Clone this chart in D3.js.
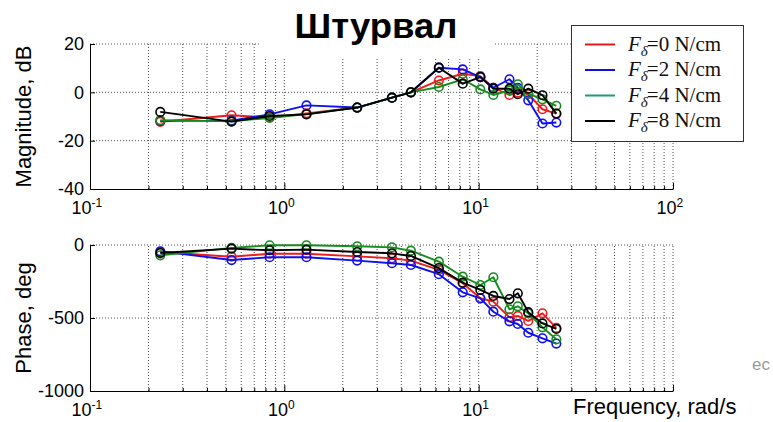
<!DOCTYPE html>
<html>
<head>
<meta charset="utf-8">
<script src="https://cdn.jsdelivr.net/npm/d3@7"></script>
<style>
  body { margin: 0; background: #fff; }
  svg { display: block; }
</style>
</head>
<body>
<svg id="chart" width="773" height="422"></svg>
<script>
// frequency points, rad/s
const freqs = [0.23, 0.535, 0.84, 1.3, 2.37, 3.58, 4.48, 6.24, 8.28, 10.2, 11.9, 14.4, 15.9, 18.0, 21.3, 25.1];

// magnitude, dB
const magF0 = [-12.2, -9.5, -10.4, -8.7, -6.3, -2.2, 0, 4.9, 7.7, 6.7, 1.9, -1.1, -0.1, -0.8, -7, -8.8];
const magF2 = [-11.8, -11.7, -9.1, -5.4, -6.3, -2.2, 0, 10.2, 9.5, 6.3, 1.9, 5.4, 1.9, -3.3, -12.9, -12.5];
const magF4 = [-11.5, -12, -10.6, -9, -6.3, -2.2, 0, 2.2, 5.4, 1.2, -1.1, 0.8, 3.3, -0.5, -2.9, -5.6];
const magF8 = [-8.1, -12.1, -9.8, -9.1, -6.3, -2.2, 0, 10.2, 3.6, 6.3, 1.5, 1.5, -0.8, 1.5, -1.2, -8.8];

// phase, deg
const phaseF0 = [-48, -80, -60, -60, -78, -91, -107, -171, -262, -365, -388, -495, -486, -520, -468, -568];
const phaseF2 = [-43, -103, -84, -84, -107, -125, -137, -200, -324, -365, -457, -523, -541, -601, -639, -675];
const phaseF4 = [-71, -20, -2, -2, -9, -16, -39, -114, -217, -274, -221, -440, -420, -468, -564, -646];
const phaseF8 = [-55, -25, -36, -32, -48, -57, -75, -158, -258, -308, -349, -370, -331, -460, -537, -575];

const loads = ['0', '2', '4', '8'];
const xTickExps = [-1, 0, 1, 2];
const magTicks = [20, 0, -20, -40];
const phaseTicks = [0, -500, -1000];

const lineColors = ['#ee1c1c', '#1010ee', '#168c1e', '#000000'];
const legendColors = ['#e0191c', '#1010d8', '#1f9980', '#000000'];

const series = loads.map((name, i) => ({
  name,
  mag: [magF0, magF2, magF4, magF8][i],
  phase: [phaseF0, phaseF2, phaseF4, phaseF8][i],
  color: lineColors[i]
}));

const svg = d3.select('#chart');
const font = '"Liberation Sans", Arial, sans-serif';

const x = d3.scaleLog().domain([0.1, 100]).range([90, 673]);
const yMag = d3.scaleLinear().domain([-40, 20]).range([189, 44]);
const yPh = d3.scaleLinear().domain([-1000, 0]).range([391, 245]);

const minorVals = [];
for (let e = -1; e < 2; e++) {
  for (let k = 2; k <= 9; k++) minorVals.push(k * Math.pow(10, e));
}
const majorVals = xTickExps.map(e => Math.pow(10, e));

function panel(y, ticks, key, label, labelledMax) {
  const [y0, y1] = y.range();   // bottom, top
  const g = svg.append('g');

  // dotted grid
  const grid = g.append('g')
      .attr('stroke', '#555')
      .attr('stroke-width', 1)
      .attr('stroke-dasharray', '1,2');
  grid.selectAll('line.v')
    .data(minorVals.concat(majorVals.slice(1)))
    .join('line')
      .attr('x1', d => x(d)).attr('x2', d => x(d))
      .attr('y1', y0).attr('y2', y1);
  grid.selectAll('line.h')
    .data(ticks.filter(t => t !== y.domain()[0]))
    .join('line')
      .attr('x1', x.range()[0]).attr('x2', x.range()[1])
      .attr('y1', d => y(d)).attr('y2', d => y(d));

  // axes
  const xAxis = g.append('g')
      .attr('transform', `translate(0,${y0})`)
      .call(d3.axisBottom(x).tickValues(majorVals).tickSizeInner(-6).tickSizeOuter(0).tickPadding(12));
  xAxis.selectAll('.tick text').each(function(d) {
    const t = d3.select(this).text('');
    if (d > labelledMax) { t.remove(); return; }
    t.attr('font-size', 18).attr('font-family', font).attr('fill', '#000').attr('dx', '-0.2em');
    t.append('tspan').text('10');
    t.append('tspan').attr('font-size', 12).attr('dy', '-0.6em').text(Math.round(Math.log10(d)));
  });
  const minor = g.append('g')
      .attr('transform', `translate(0,${y0})`)
      .call(d3.axisBottom(x).tickValues(minorVals).tickSizeInner(-3).tickSizeOuter(0).tickFormat(''));
  minor.select('.domain').remove();
  minor.selectAll('.tick text').remove();

  const yAxis = g.append('g')
      .attr('transform', `translate(${x.range()[0]},0)`)
      .call(d3.axisLeft(y).tickValues(ticks).tickFormat(d => String(d))
        .tickSizeInner(-5).tickSizeOuter(0).tickPadding(6));
  yAxis.selectAll('.tick text').attr('font-size', 18).attr('font-family', font).attr('fill', '#000');

  g.selectAll('.domain').attr('stroke', '#000').attr('stroke-width', 1);
  g.selectAll('.tick line').attr('stroke', '#000');

  // y label
  g.append('text')
      .attr('transform', `translate(31,${(y0 + y1) / 2}) rotate(-90)`)
      .attr('text-anchor', 'middle')
      .attr('font-family', font)
      .attr('font-size', 22)
      .text(label);

  // data
  const line = d3.line()
      .x((d, i) => x(freqs[i]))
      .y(d => y(d));

  const s = g.append('g').selectAll('g')
    .data(series)
    .join('g')
      .attr('stroke', d => d.color)
      .attr('fill', 'none');
  s.append('path')
      .attr('stroke-width', 1.9)
      .attr('stroke-linejoin', 'round')
      .attr('d', d => line(d[key]));
  s.selectAll('circle')
    .data(d => d[key])
    .join('circle')
      .attr('cx', (d, i) => x(freqs[i]))
      .attr('cy', d => y(d))
      .attr('r', 4.3)
      .attr('stroke-width', 1.6);
}

panel(yMag, magTicks, 'mag', 'Magnitude, dB', 100);
// in the phase plot the x label sits where 10^2 would be
panel(yPh, phaseTicks, 'phase', 'Phase, deg', 10);

// title box covers the grid behind it
svg.append('rect')
    .attr('x', 261).attr('y', 0)
    .attr('width', 232).attr('height', 57)
    .attr('fill', '#fff');
svg.append('text')
    .attr('x', 376).attr('y', 38)
    .attr('text-anchor', 'middle')
    .attr('font-family', font)
    .attr('font-weight', 'bold')
    .attr('font-size', 35)
    .attr('textLength', 163)
    .attr('lengthAdjust', 'spacingAndGlyphs')
    .text('Штурвал');

// legend
const legend = svg.append('g');
legend.append('rect')
    .attr('x', 571.5).attr('y', 25.5)
    .attr('width', 172).attr('height', 116)
    .attr('fill', '#fff')
    .attr('stroke', '#333')
    .attr('stroke-width', 1);
const item = legend.selectAll('g.item')
  .data(loads)
  .join('g')
    .attr('transform', (d, i) => `translate(0,${44.5 + i * 25.5})`);
item.append('line')
    .attr('x1', 585).attr('x2', 615)
    .attr('stroke', (d, i) => legendColors[i])
    .attr('stroke-width', 2);
const lt = item.append('text')
    .attr('x', 628).attr('y', 6)
    .attr('font-family', '"Liberation Serif", "Times New Roman", serif')
    .attr('font-size', 21)
    .attr('fill', '#111');
lt.append('tspan').attr('font-style', 'italic').text('F');
lt.append('tspan').attr('font-style', 'italic').attr('font-size', 15).attr('dy', 5).text('δ');
lt.append('tspan').attr('dy', -5).attr('dx', -1).text(d => `=${d} N/cm`);

// x label
svg.append('text')
    .attr('x', 573).attr('y', 414)
    .attr('font-family', font)
    .attr('font-size', 22)
    .text('Frequency, rad/s');

// stray fragment at the right edge
svg.append('text')
    .attr('x', 752).attr('y', 370)
    .attr('font-family', font)
    .attr('font-size', 17)
    .attr('fill', '#9a9a9a')
    .text('ec');
</script>
</body>
</html>
